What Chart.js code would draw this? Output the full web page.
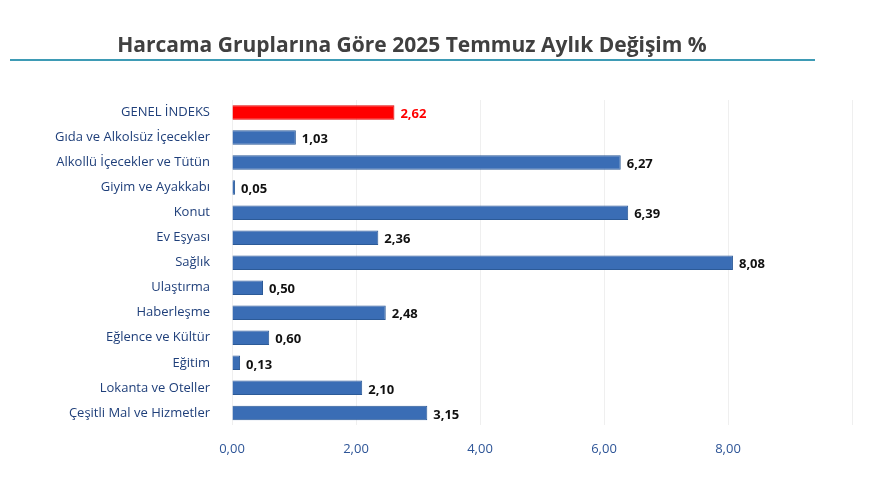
<!DOCTYPE html>
<html><head><meta charset="utf-8">
<script src="https://cdn.jsdelivr.net/npm/chart.js@4"></script>
<style>body{margin:0;background:#fff}#w{width:880px;height:500px;position:relative}</style>
</head><body><div id="w"><canvas id="c"></canvas></div>
<script>
const categories = ['GENEL İNDEKS','Gıda ve Alkolsüz İçecekler','Alkollü İçecekler ve Tütün','Giyim ve Ayakkabı','Konut','Ev Eşyası','Sağlık','Ulaştırma','Haberleşme','Eğlence ve Kültür','Eğitim','Lokanta ve Oteller','Çeşitli Mal ve Hizmetler'];
const values = [2.62,1.03,6.27,0.05,6.39,2.36,8.08,0.50,2.48,0.60,0.13,2.10,3.15];
const barColors = values.map((v,i)=> i===0 ? '#FF0000' : '#3A6DB5');
const borderColors = values.map((v,i)=> i===0 ? '#E00000' : '#2C5A97');
const fmt = v => v.toFixed(2).replace('.',',');

const extras = {
  id:'extras',
  afterDraw(chart){
    const ctx = chart.ctx;
    ctx.save();
    ctx.fillStyle = '#404040';
    ctx.font = 'bold 21px "Open Sans", sans-serif';
    ctx.textAlign = 'center'; ctx.textBaseline = 'middle';
    ctx.fillText('Harcama Gruplarına Göre 2025 Temmuz Aylık Değişim %', 412, 46);
    ctx.strokeStyle = '#3E9BB5'; ctx.lineWidth = 2;
    ctx.beginPath(); ctx.moveTo(10,60); ctx.lineTo(815,60); ctx.stroke();
    const meta = chart.getDatasetMeta(0);
    ctx.textAlign = 'left';
    meta.data.forEach((bar,i)=>{
      ctx.fillStyle = i===0 ? '#FF0000' : '#111';
      ctx.font = 'bold 13px "Open Sans", sans-serif';
      ctx.fillText(fmt(values[i]), bar.x + 6, bar.y + 2);
    });
    ctx.restore();
  }
};

new Chart(document.getElementById('c'), {
  type:'bar',
  data:{labels:categories, datasets:[{data:values, backgroundColor:barColors, borderColor:borderColors, borderWidth:1, barPercentage:0.58, categoryPercentage:1}]},
  options:{
    indexAxis:'y', responsive:true, maintainAspectRatio:false, animation:false,
    layout:{padding:{top:100, right:28, bottom:27, left:8}},
    plugins:{legend:{display:false}, tooltip:{enabled:false}},
    scales:{
      x:{min:0, max:10, ticks:{stepSize:2, color:'#2E5597', padding:16, font:{size:13, family:'"Open Sans", sans-serif'},
          callback:(v)=> v===10 ? '' : fmt(v)},
         grid:{color:'#EFEFEF', drawTicks:false}, border:{display:false}},
      y:{ticks:{color:'#1F3F7A', font:{size:13, family:'"Open Sans", sans-serif'}, padding:14},
         grid:{display:false}, border:{display:false}, afterFit(s){s.width=224;}}
    }
  },
  plugins:[extras]
});
</script></body></html>
